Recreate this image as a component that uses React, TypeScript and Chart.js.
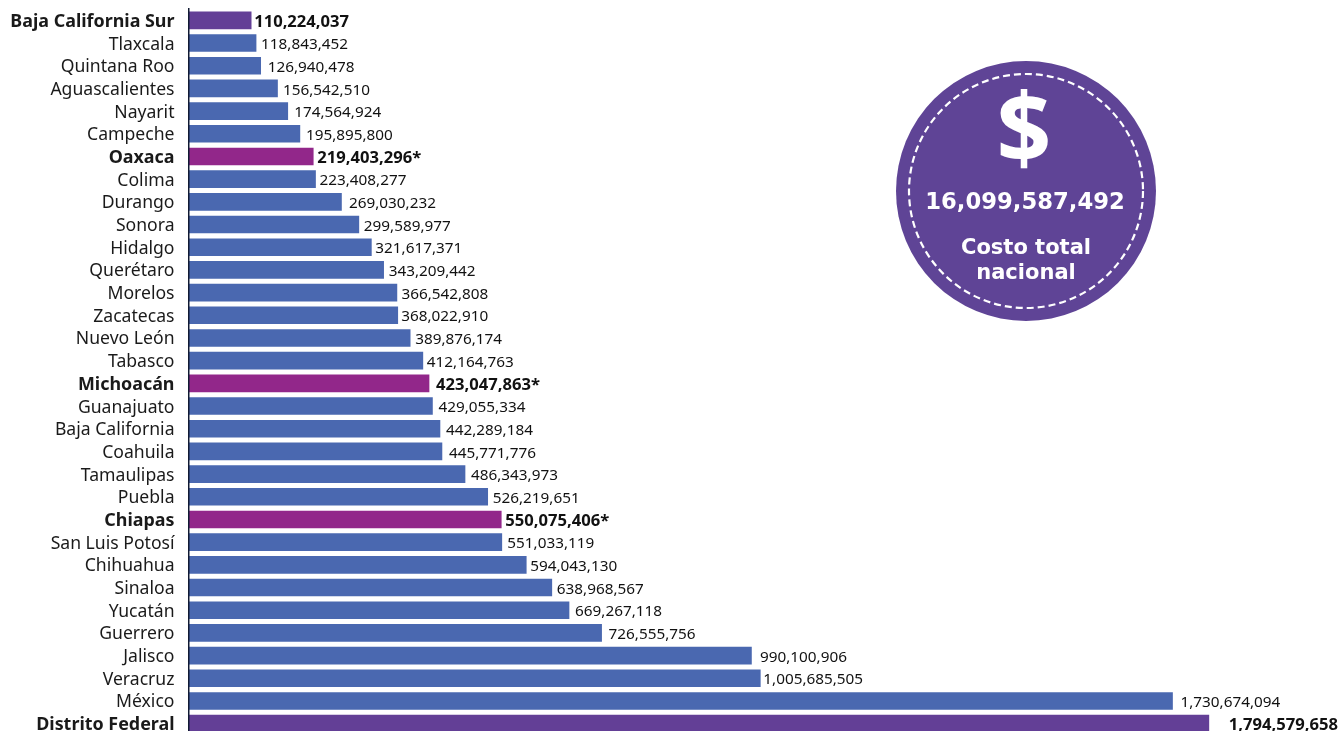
import React, { useEffect, useRef } from "react";
import { Chart, registerables } from "chart.js";

Chart.register(...registerables);

const categories = ["Baja California Sur","Tlaxcala","Quintana Roo","Aguascalientes","Nayarit","Campeche","Oaxaca","Colima","Durango","Sonora","Hidalgo","Querétaro","Morelos","Zacatecas","Nuevo León","Tabasco","Michoacán","Guanajuato","Baja California","Coahuila","Tamaulipas","Puebla","Chiapas","San Luis Potosí","Chihuahua","Sinaloa","Yucatán","Guerrero","Jalisco","Veracruz","México","Distrito Federal"];
const costs = [110224037,118843452,126940478,156542510,174564924,195895800,219403296,223408277,269030232,299589977,321617371,343209442,366542808,368022910,389876174,412164763,423047863,429055334,442289184,445771776,486343973,526219651,550075406,551033119,594043130,638968567,669267118,726555756,990100906,1005685505,1730674094,1794579658];
const extremes = ["Baja California Sur", "Distrito Federal"];
const starred = ["Oaxaca", "Michoacán", "Chiapas"];
const labelGaps = [3,5,7,5.5,6.5,6,4,4,7.5,5,4,5,4.5,3.5,5,4,7,6,6,7,6,5,4,5.5,4,5,6,7,8.5,3,8,20];
const totalValue = "16,099,587,492";
const totalLines = ["Costo total", "nacional"];

const FONT = '"Noto Sans", sans-serif';
const BADGE_FONT = '"DejaVu Sans", sans-serif';
const INK = "#1a1a1a";
const isBold = (c: string) => extremes.includes(c) || starred.includes(c);
const colorOf = (c: string) => extremes.includes(c) ? "#633f96" : starred.includes(c) ? "#92278a" : "#4a68b0";

const overlay = {
  id: "overlay",
  afterDatasetsDraw(chart: any) {
    const { ctx } = chart;
    const meta = chart.getDatasetMeta(0);
    ctx.save();
    ctx.textBaseline = "middle";
    ctx.textAlign = "left";
    meta.data.forEach((bar: any, i: number) => {
      const c = categories[i];
      ctx.fillStyle = "#111";
      ctx.font = isBold(c) ? `700 16.6px ${FONT}` : `400 15.3px ${FONT}`;
      const t = costs[i].toLocaleString("en-US") + (starred.includes(c) ? "*" : "");
      ctx.fillText(t, bar.x + labelGaps[i], bar.y + 1.8);
    });
    const cx = 1026, cy = 191;
    ctx.beginPath();
    ctx.arc(cx, cy, 130, 0, Math.PI * 2);
    ctx.fillStyle = "#5f4496";
    ctx.fill();
    ctx.beginPath();
    ctx.arc(cx, cy, 117, 0, Math.PI * 2);
    ctx.setLineDash([7, 4]);
    ctx.lineWidth = 2.2;
    ctx.strokeStyle = "#ffffff";
    ctx.stroke();
    ctx.setLineDash([]);
    ctx.fillStyle = "#ffffff";
    ctx.textAlign = "center";
    ctx.textBaseline = "alphabetic";
    ctx.font = `700 96px ${FONT}`;
    ctx.fillText("$", cx - 2, 162.5);
    ctx.font = `700 22.7px ${BADGE_FONT}`;
    ctx.fillText(totalValue, cx - 1, 209);
    ctx.font = `700 21px ${BADGE_FONT}`;
    ctx.fillText(totalLines[0], cx, 254);
    ctx.fillText(totalLines[1], cx, 279);
    ctx.restore();
  },
};

export default function App() {
  const ref = useRef<HTMLCanvasElement>(null);
  useEffect(() => {
    document.body.style.margin = "0";
    const chart = new Chart(ref.current!, {
      type: "bar",
      data: {
        labels: categories,
        datasets: [{
          data: costs,
          backgroundColor: categories.map(colorOf),
          barThickness: 17,
          borderWidth: 0,
        }],
      },
      options: {
        indexAxis: "y",
        animation: false,
        responsive: false,
        layout: { padding: { top: 9, bottom: 10, left: 0, right: 0 } },
        plugins: { legend: { display: false }, tooltip: { enabled: false } },
        scales: {
          x: { display: false, min: 0, max: 2027000000 },
          y: {
            afterFit: (s: any) => { s.width = 188.5; s.paddingTop = 0; s.paddingBottom = 0; },
            grid: { display: false, drawTicks: false },
            border: { display: true, color: "#111a33", width: 1.5, z: 1 },
            ticks: {
              autoSkip: false,
              padding: 14,
              labelOffset: 1.5,
              color: INK,
              font: (ctx: any) => ({
                family: FONT,
                size: isBold(categories[ctx.index]) ? 17.9 : 17.6,
                weight: isBold(categories[ctx.index]) ? 700 : 400,
              }),
            },
          },
        },
      },
      plugins: [overlay],
    } as any);
    return () => chart.destroy();
  }, []);
  return (
    <div style={{ width: 1341, height: 731, overflow: "hidden", background: "#fff" }}>
      <canvas ref={ref} width={1341} height={745} style={{ display: "block" }} />
    </div>
  );
}
